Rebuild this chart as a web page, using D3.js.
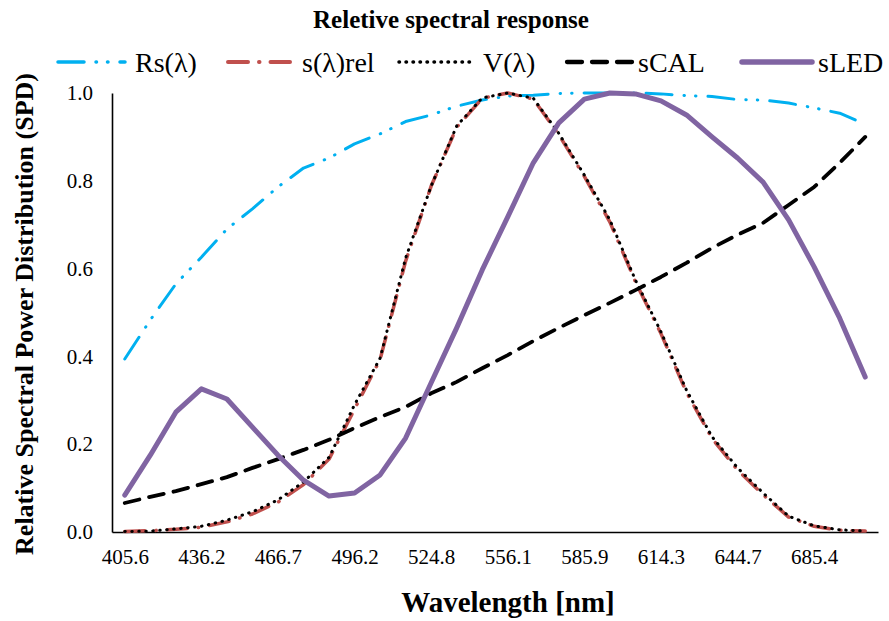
<!DOCTYPE html>
<html>
<head>
<meta charset="utf-8">
<script src="https://cdn.jsdelivr.net/npm/d3@7"></script>
<style>
  html, body { margin: 0; padding: 0; background: #fff; }
  svg, svg text { font-family: "Liberation Serif", "Times New Roman", serif !important; }
</style>
</head>
<body>
<script>
// ---------- data ----------
const categories = [
  "405.6","415.8","426.0","436.2","446.3","456.5","466.7","476.6","486.4","496.2",
  "505.7","515.2","524.8","535.3","545.7","556.1","566.1","576.0","585.9","595.4",
  "604.8","614.3","624.4","634.6","644.7","658.3","671.9","685.4","695.1","704.9"
];
const tickLabels = ["405.6","436.2","466.7","496.2","524.8","556.1","585.9","614.3","644.7","685.4"];
const yTicks = [0, 0.2, 0.4, 0.6, 0.8, 1.0];

const rsValues = [
  0.394,0.483,0.565,0.626,0.690,0.736,0.786,0.829,0.852,0.884,
  0.907,0.935,0.950,0.970,0.984,0.993,0.995,0.999,1.000,1.000,
  1.000,0.998,0.994,0.992,0.985,0.984,0.977,0.966,0.954,0.929
];
const sRelValues = [
  0.001,0.003,0.006,0.011,0.023,0.041,0.068,0.108,0.166,0.280,
  0.393,0.617,0.788,0.922,0.988,1.000,0.986,0.905,0.810,0.706,
  0.570,0.452,0.318,0.213,0.141,0.085,0.034,0.013,0.004,0.002
];
const vValues = [
  0.001,0.002,0.007,0.013,0.027,0.046,0.073,0.114,0.170,0.290,
  0.396,0.624,0.788,0.925,0.989,1.000,0.988,0.908,0.813,0.711,
  0.574,0.456,0.323,0.217,0.146,0.089,0.036,0.014,0.005,0.002
];
const sCalValues = [
  0.066,0.080,0.093,0.109,0.125,0.146,0.166,0.187,0.210,0.237,
  0.262,0.285,0.316,0.342,0.373,0.403,0.435,0.465,0.494,0.522,
  0.551,0.581,0.613,0.647,0.677,0.704,0.745,0.786,0.841,0.900
];
const sLedValues = [
  0.084,0.175,0.273,0.326,0.303,0.239,0.175,0.118,0.082,0.089,
  0.130,0.214,0.340,0.465,0.597,0.718,0.841,0.932,0.986,1.000,
  0.998,0.982,0.950,0.900,0.852,0.797,0.711,0.604,0.487,0.353
];
const seriesNames = ["Rs(\u03BB)", "s(\u03BB)rel", "V(\u03BB)", "sCAL", "sLED"];

// ---------- styles ----------
const seriesStyles = [
  { color: "#00B0F0", width: 3,   dash: "26,12,0.5,11,0.5,12", cap: "round" },
  { color: "#C0504D", width: 3.5, dash: "20,11,0.5,11",        cap: "round" },
  { color: "#000000", width: 3,   dash: "0.5,6.5",             cap: "round" },
  { color: "#000000", width: 3.8, dash: "15,10",               cap: "round" },
  { color: "#8064A2", width: 5,   dash: null,                  cap: "round" }
];
const allValues = [rsValues, sRelValues, vValues, sCalValues, sLedValues];

// ---------- layout ----------
const W = 889, H = 621;
const plotLeft = 112, plotRight = 878, plotBottom = 532, plotTop = 93;
const font = '"Liberation Serif", "Times New Roman", serif';

const svg = d3.select("body").append("svg").attr("width", W).attr("height", H)
  .style("font-family", font);
svg.append("rect").attr("width", W).attr("height", H).attr("fill", "#fff");

const x = d3.scalePoint().domain(categories).range([plotLeft, plotRight]).padding(0.5);
const y = d3.scaleLinear().domain([0, 1]).range([plotBottom, plotTop]);

// title
svg.append("text").attr("x", 451).attr("y", 28).attr("text-anchor", "middle")
  .style("font-family", font)
  .attr("font-size", 25).attr("font-weight", "bold").attr("fill", "#000")
  .text("Reletive spectral response");

// axes
const xAxisG = svg.append("g").attr("transform", `translate(0,${plotBottom})`)
  .call(d3.axisBottom(x).tickValues(tickLabels).tickSize(0).tickPadding(17));
const yAxisG = svg.append("g").attr("transform", `translate(${plotLeft},0)`)
  .call(d3.axisLeft(y).tickValues(yTicks).tickSize(0).tickPadding(19).tickFormat(d3.format(".1f")));
[xAxisG, yAxisG].forEach(g => {
  g.attr("font-family", null).style("font-family", font);
  g.select(".domain").attr("stroke", "#000").attr("stroke-width", 1.6);
  g.selectAll("text").style("font-family", font).attr("font-size", 21).attr("fill", "#000");
});

// axis titles
svg.append("text").attr("x", 508).attr("y", 612).attr("text-anchor", "middle")
  .style("font-family", font)
  .attr("font-size", 29).attr("font-weight", "bold").attr("fill", "#000")
  .text("Wavelength [nm]");
svg.append("text").attr("transform", "translate(33,314) rotate(-90)").attr("text-anchor", "middle")
  .style("font-family", font)
  .attr("font-size", 26).attr("font-weight", "bold").attr("fill", "#000")
  .text("Relative Spectral Power Distribution (SPD)");

// series
const line = d3.line().x((d, i) => x(categories[i])).y(d => y(d));
allValues.forEach((vals, k) => {
  const s = seriesStyles[k];
  svg.append("path").datum(vals).attr("d", line)
    .attr("fill", "none").attr("stroke", s.color).attr("stroke-width", s.width)
    .attr("stroke-linecap", s.cap).attr("stroke-linejoin", "round")
    .attr("stroke-dasharray", s.dash);
});

// legend
const legendLine = [[58,125],[228,290],[399,472],[567,634],[742,812]];
const legendText = [135, 302, 483, 638, 818];
const legendY = 62;
seriesNames.forEach((name, k) => {
  const s = seriesStyles[k];
  svg.append("line").attr("x1", legendLine[k][0]).attr("x2", legendLine[k][1])
    .attr("y1", legendY).attr("y2", legendY)
    .attr("stroke", s.color).attr("stroke-width", s.width + 0.5)
    .attr("stroke-linecap", s.cap).attr("stroke-dasharray", s.dash);
  svg.append("text").attr("x", legendText[k]).attr("y", legendY + 10)
    .style("font-family", font)
    .attr("font-size", 28).attr("fill", "#000").text(name);
});
</script>
</body>
</html>
